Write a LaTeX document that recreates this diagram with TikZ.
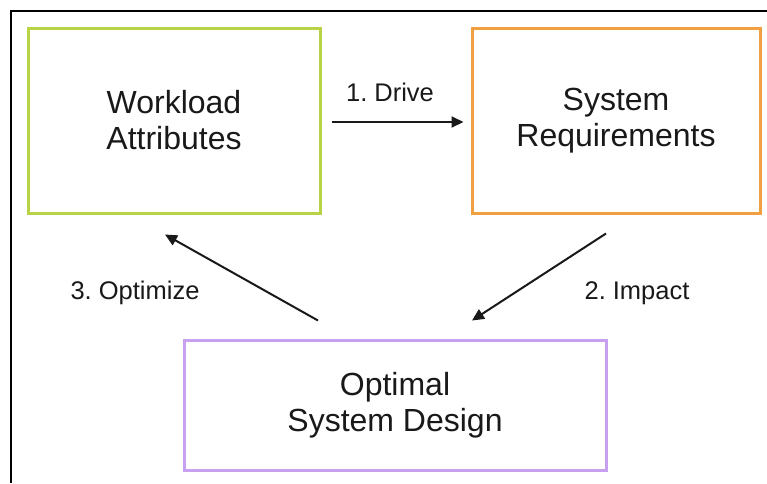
\documentclass[tikz,border=0pt]{standalone}
\usepackage{fontspec}
\setmainfont{Liberation Sans}
\usetikzlibrary{arrows.meta,calc}
\definecolor{boxgreen}{RGB}{184,212,70}
\definecolor{boxorange}{RGB}{240,160,64}
\definecolor{boxpurple}{RGB}{200,160,240}
\definecolor{txt}{RGB}{25,25,25}
\frenchspacing
\begin{document}
\begin{tikzpicture}[x=1pt,y=-1pt,
  box/.style={draw,line width=3pt,align=center,text=txt,font=\fontsize{32}{36}\selectfont,inner sep=0pt},
  lbl/.style={text=txt,font=\fontsize{25.5}{28}\selectfont,inner sep=0pt},
  arr/.style={draw=txt,line width=2pt,-{Triangle[length=12pt,width=11pt]}}]
\useasboundingbox (0,0) rectangle (767,483);
\fill[white] (0,0) rectangle (767,483);
\draw[line width=1.6pt] (11,483) -- (11,11) -- (767,11);
\node[box,draw=boxgreen,minimum width=292pt,minimum height=185pt] (wa) at (174,120.5) {Workload\\Attributes};
\node[box,draw=boxorange,minimum width=288pt,minimum height=185pt] (sr) at (616,120.5) {System\\Requirements};
\node[box,draw=boxpurple,minimum width=422pt,minimum height=130pt] (osd) at (395,405) {Optimal\\System Design};
\draw[arr] ($(wa.east)+(10,1.5)$) -- ($(sr.west)+(-7,1.5)$);
\draw[arr] ($(sr.south)+(-10,19)$) -- ($(osd.north)+(77,-18)$);
\draw[arr] ($(osd.north)+(-77,-18)$) -- ($(wa.south)+(-9,20)$);
\node[lbl] (l1) at (390,92) {1. Drive};
\node[lbl] (l2) at (637,293) {2. Impact};
\node[lbl] (l3) at (135,293) {3. Optimize};
\end{tikzpicture}
\end{document}
